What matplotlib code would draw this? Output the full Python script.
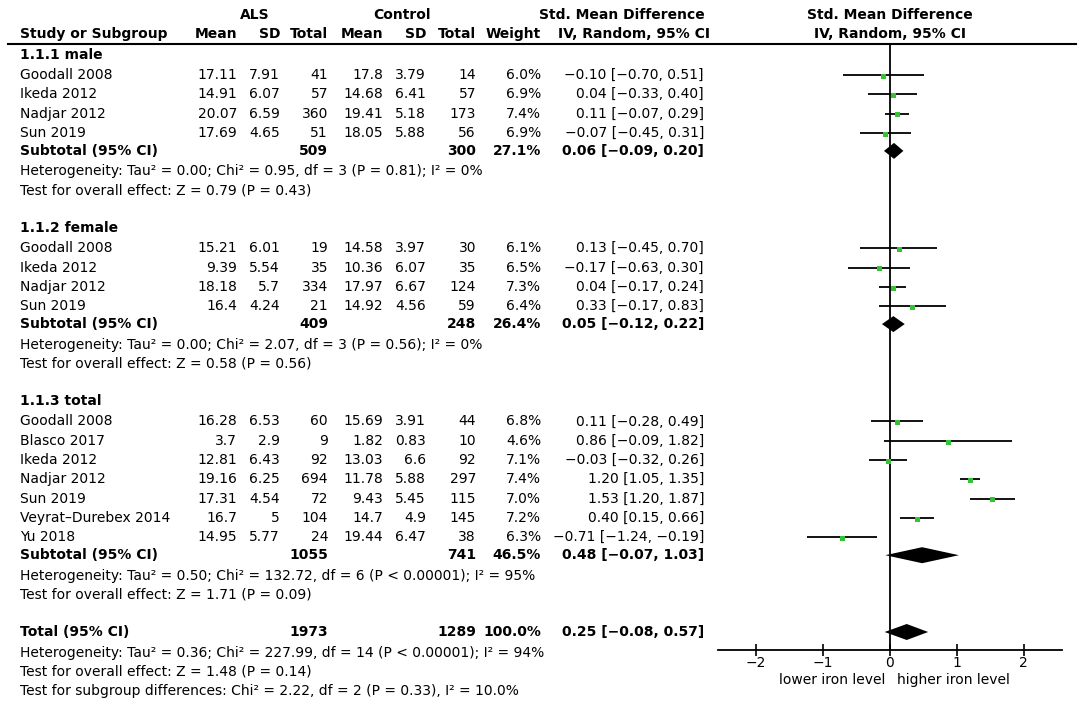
import matplotlib
matplotlib.use("Agg")
import matplotlib.pyplot as plt

# ---- data ----
group_names = ["1.1.1 male", "1.1.2 female", "1.1.3 total"]

studies = [
    ["Goodall 2008", "Ikeda 2012", "Nadjar 2012", "Sun 2019"],
    ["Goodall 2008", "Ikeda 2012", "Nadjar 2012", "Sun 2019"],
    ["Goodall 2008", "Blasco 2017", "Ikeda 2012", "Nadjar 2012", "Sun 2019",
     "Veyrat–Durebex 2014", "Yu 2018"],
]
als_mean = [[17.11, 14.91, 20.07, 17.69],
            [15.21, 9.39, 18.18, 16.4],
            [16.28, 3.7, 12.81, 19.16, 17.31, 16.7, 14.95]]
als_sd = [[7.91, 6.07, 6.59, 4.65],
          [6.01, 5.54, 5.7, 4.24],
          [6.53, 2.9, 6.43, 6.25, 4.54, 5, 5.77]]
als_n = [[41, 57, 360, 51],
         [19, 35, 334, 21],
         [60, 9, 92, 694, 72, 104, 24]]
ctl_mean = [[17.8, 14.68, 19.41, 18.05],
            [14.58, 10.36, 17.97, 14.92],
            [15.69, 1.82, 13.03, 11.78, 9.43, 14.7, 19.44]]
ctl_sd = [[3.79, 6.41, 5.18, 5.88],
          [3.97, 6.07, 6.67, 4.56],
          [3.91, 0.83, 6.6, 5.88, 5.45, 4.9, 6.47]]
ctl_n = [[14, 57, 173, 56],
         [30, 35, 124, 59],
         [44, 10, 92, 297, 115, 145, 38]]
weight = [[6.0, 6.9, 7.4, 6.9],
          [6.1, 6.5, 7.3, 6.4],
          [6.8, 4.6, 7.1, 7.4, 7.0, 7.2, 6.3]]
smd = [[-0.10, 0.04, 0.11, -0.07],
       [0.13, -0.17, 0.04, 0.33],
       [0.11, 0.86, -0.03, 1.20, 1.53, 0.40, -0.71]]
ci_lo = [[-0.70, -0.33, -0.07, -0.45],
         [-0.45, -0.63, -0.17, -0.17],
         [-0.28, -0.09, -0.32, 1.05, 1.20, 0.15, -1.24]]
ci_hi = [[0.51, 0.40, 0.29, 0.31],
         [0.70, 0.30, 0.24, 0.83],
         [0.49, 1.82, 0.26, 1.35, 1.87, 0.66, -0.19]]

sub_als_n = [509, 409, 1055]
sub_ctl_n = [300, 248, 741]
sub_weight = [27.1, 26.4, 46.5]
sub_smd = [0.06, 0.05, 0.48]
sub_lo = [-0.09, -0.12, -0.07]
sub_hi = [0.20, 0.22, 1.03]
sub_het = ["Heterogeneity: Tau² = 0.00; Chi² = 0.95, df = 3 (P = 0.81); I² = 0%",
           "Heterogeneity: Tau² = 0.00; Chi² = 2.07, df = 3 (P = 0.56); I² = 0%",
           "Heterogeneity: Tau² = 0.50; Chi² = 132.72, df = 6 (P < 0.00001); I² = 95%"]
sub_test = ["Test for overall effect: Z = 0.79 (P = 0.43)",
            "Test for overall effect: Z = 0.58 (P = 0.56)",
            "Test for overall effect: Z = 1.71 (P = 0.09)"]

tot_als_n = 1973
tot_ctl_n = 1289
tot_weight = 100.0
tot_smd, tot_lo, tot_hi = 0.25, -0.08, 0.57
tot_notes = ["Heterogeneity: Tau² = 0.36; Chi² = 227.99, df = 14 (P < 0.00001); I² = 94%",
             "Test for overall effect: Z = 1.48 (P = 0.14)",
             "Test for subgroup differences: Chi² = 2.22, df = 2 (P = 0.33), I² = 10.0%"]

xticks = [-2, -1, 0, 1, 2]
favours = ["lower iron level", "higher iron level"]

# ---- layout (pixels) ----
W, H = 1084, 706
FS = 10
col_x = [237, 280, 328, 383, 426, 476, 541, 704]   # right edges
X_NAME = 20
GREEN = "#36c236"


def num(v):
    return f"{v:g}"


def ci_text(e, lo, hi):
    return f"{e:.2f} [{lo:.2f}, {hi:.2f}]".replace("-", "−")


fig = plt.figure(figsize=(W / 100, H / 100), dpi=100)
tab = fig.add_axes([0, 0, 1, 1])
tab.set_xlim(0, W)
tab.set_ylim(H, 0)
tab.axis("off")

fx0, fx1, fy0, fy1 = 718, 1062, 44, 650
fa = fig.add_axes([fx0 / W, (H - fy1) / H, (fx1 - fx0) / W, (fy1 - fy0) / H])
fa.patch.set_alpha(0)
fa.set_xlim(-2.57, 2.57)
fa.set_ylim(fy1, fy0)
for s in ["top", "left", "right"]:
    fa.spines[s].set_visible(False)
fa.spines["bottom"].set_linewidth(1.3)
fa.set_yticks([])
fa.set_xticks(xticks)
fa.tick_params(axis="x", direction="inout", length=9, width=1.2, labelsize=FS, pad=0)
fa.axvline(0, color="black", lw=1.3)


def put(x, y, s, ha="right", bold=False):
    tab.text(x, y, s, ha=ha, va="center", fontsize=FS,
             fontweight="bold" if bold else "normal")


# header
put(255, 15, "ALS", ha="center", bold=True)
put(402, 15, "Control", ha="center", bold=True)
put(622, 15, "Std. Mean Difference", ha="center", bold=True)
put(890, 15, "Std. Mean Difference", ha="center", bold=True)
put(X_NAME, 34, "Study or Subgroup", ha="left", bold=True)
for x, h in zip(col_x[:7], ["Mean", "SD", "Total", "Mean", "SD", "Total", "Weight"]):
    put(x, 34, h, bold=True)
put(634, 34, "IV, Random, 95% CI", ha="center", bold=True)
put(890, 34, "IV, Random, 95% CI", ha="center", bold=True)
tab.plot([8, 1076], [43.5, 43.5], color="black", lw=1.5)


def diamond(y, e, lo, hi, h=8):
    fa.fill([lo, e, hi, e], [y, y - h, y, y + h], color="black", lw=0)


y = 55
for g in range(len(group_names)):
    put(X_NAME, y, group_names[g], ha="left", bold=True)
    y += 20
    for k in range(len(studies[g])):
        put(X_NAME, y, studies[g][k], ha="left")
        vals = [num(als_mean[g][k]), num(als_sd[g][k]), str(als_n[g][k]),
                num(ctl_mean[g][k]), num(ctl_sd[g][k]), str(ctl_n[g][k]),
                f"{weight[g][k]:.1f}%", ci_text(smd[g][k], ci_lo[g][k], ci_hi[g][k])]
        for x, v in zip(col_x, vals):
            put(x, y, v)
        fa.plot([ci_lo[g][k], ci_hi[g][k]], [y, y], color="black", lw=1.3,
                solid_capstyle="butt")
        fa.plot(smd[g][k], y + 0.8, marker="s", ms=3.6, color=GREEN, mew=0)
        y += 19.3
    y -= 1.3
    put(X_NAME, y, "Subtotal (95% CI)", ha="left", bold=True)
    put(col_x[2], y, str(sub_als_n[g]), bold=True)
    put(col_x[5], y, str(sub_ctl_n[g]), bold=True)
    put(col_x[6], y, f"{sub_weight[g]:.1f}%", bold=True)
    put(col_x[7], y, ci_text(sub_smd[g], sub_lo[g], sub_hi[g]), bold=True)
    diamond(y, sub_smd[g], sub_lo[g], sub_hi[g])
    y += 20.5
    put(X_NAME, y, sub_het[g], ha="left")
    y += 19.3
    put(X_NAME, y, sub_test[g], ha="left")
    y += 37.5

y -= 0.5
put(X_NAME, y, "Total (95% CI)", ha="left", bold=True)
put(col_x[2], y, str(tot_als_n), bold=True)
put(col_x[5], y, str(tot_ctl_n), bold=True)
put(col_x[6], y, f"{tot_weight:.1f}%", bold=True)
put(col_x[7], y, ci_text(tot_smd, tot_lo, tot_hi), bold=True)
diamond(y, tot_smd, tot_lo, tot_hi)
y += 20.5
for note in tot_notes:
    put(X_NAME, y, note, ha="left")
    y += 19.3

put(885, 680, favours[0], ha="right")
put(897, 680, favours[1], ha="left")

fig.savefig("out.png", dpi=100)
